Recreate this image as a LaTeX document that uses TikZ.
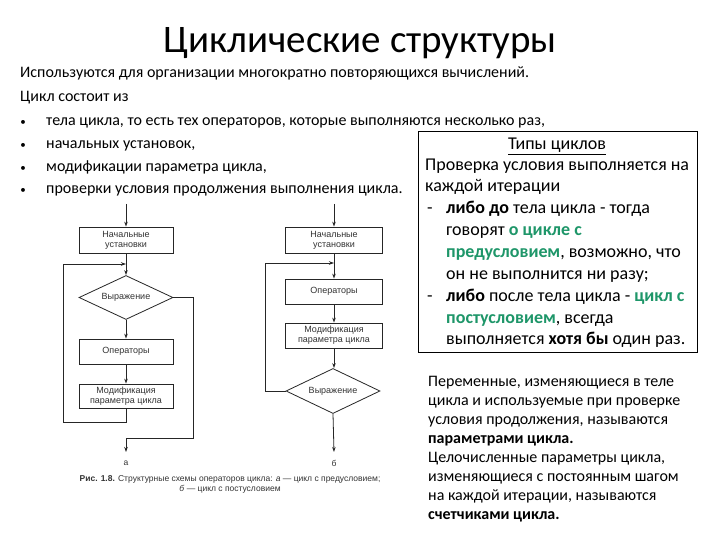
\documentclass[tikz,border=0pt]{standalone}
\usepackage{fontspec}
\setmainfont{Carlito}
\newfontfamily\chartfont{Liberation Sans}
\usetikzlibrary{shapes.geometric,arrows.meta}
\definecolor{grn}{RGB}{30,150,105}
\begin{document}
\begin{tikzpicture}[x=1pt,y=-1pt,
 lt/.style={anchor=base west,inner sep=0,font=\fontsize{16}{19}\selectfont},
 blt/.style={anchor=base,inner sep=0,font=\fontsize{11}{13}\selectfont},
 bt/.style={anchor=base west,inner sep=0,font=\fontsize{18}{21}\selectfont},
 ct/.style={anchor=base west,inner sep=0,font=\fontsize{16}{19}\selectfont},
 fbox/.style={draw=black!85,line width=0.8pt,minimum width=94pt,minimum height=25pt,inner sep=1pt,align=center,font=\chartfont\fontsize{9}{10}\selectfont,text=black!80},
 fdia/.style={diamond,draw=black!85,line width=0.8pt,minimum width=94pt,minimum height=44pt,inner sep=0,aspect=2.2,font=\chartfont\fontsize{9}{10}\selectfont,text=black!80},
 fl/.style={draw=black!85,line width=0.8pt},
 fa/.style={fl,-{Stealth[length=5pt,width=3.5pt]}},
 captxt/.style={inner sep=0,font=\chartfont\fontsize{8.5}{10}\selectfont,text=black!80},
]
\fill[white] (0,0) rectangle (720,540);
\useasboundingbox (0,0) rectangle (720,540);

% title
\node[anchor=base,inner sep=0,font=\fontsize{39}{44}\selectfont] (title) at (360,53) {Циклические структуры};

% left text
\node[lt] (t1) at (20,78) {Используются для организации многократно повторяющихся вычислений.};
\node[lt] (t2) at (20,102) {Цикл состоит из};
\node[blt] (b1) at (23,126) {•};
\node[lt] (t3) at (46,126) {тела цикла, то есть тех операторов, которые выполняются несколько раз,};
\node[blt] (b2) at (23,149) {•};
\node[lt] (t4) at (46,149) {начальных установок,};
\node[blt] (b3) at (23,172) {•};
\node[lt] (t5) at (46,172) {модификации параметра цикла,};
\node[blt] (b4) at (23,194) {•};
\node[lt] (t6) at (46,194) {проверки условия продолжения выполнения цикла.};

% right box
\draw[line width=0.8pt] (418,131) rectangle (697,352);
\node[anchor=base,inner sep=0,font=\fontsize{18}{21}\selectfont] (r0) at (557,150) {\underline{Типы циклов}};
\node[bt] (r1) at (425,171) {Проверка условия выполняется на};
\node[bt] (r2) at (425,192) {каждой итерации};
\node[bt] (d1m) at (427,214) {-};
\node[bt] (r3) at (446,214) {\textbf{либо до} тела цикла - тогда};
\node[bt] (r4) at (446,236) {говорят {\bfseries\color{grn}о цикле с}};
\node[bt] (r5) at (446,258) {{\bfseries\color{grn}предусловием}, возможно, что};
\node[bt] (r6) at (446,279) {он не выполнится ни разу;};
\node[bt] (d2m) at (427,301) {-};
\node[bt] (r7) at (446,301) {\textbf{либо} после тела цикла - {\bfseries\color{grn}цикл с}};
\node[bt] (r8) at (446,323) {{\bfseries\color{grn}постусловием}, всегда};
\node[bt] (r9) at (446,344) {выполняется \textbf{хотя бы} один раз.};

% bottom right
\node[ct] (p1) at (428,386) {Переменные, изменяющиеся в теле};
\node[ct] (p2) at (428,405) {цикла и используемые при проверке};
\node[ct] (p3) at (428,424) {условия продолжения, называются};
\node[ct] (p4) at (428,443) {\textbf{параметрами цикла.}};
\node[ct] (p5) at (428,462) {Целочисленные параметры цикла,};
\node[ct] (p6) at (428,481) {изменяющиеся с постоянным шагом};
\node[ct] (p7) at (428,500) {на каждой итерации, называются};
\node[ct] (p8) at (428,519) {\textbf{счетчиками цикла.}};

% ---- flowchart a
\coordinate (aTop) at (126,204);
\node[fbox,minimum height=26pt] (aNU) at (126,240) {Начальные\\установки};
\node[fdia] (aD) at (126,297.5) {Выражение};
\node[fbox] (aOp) at (126,351.5) {Операторы};
\node[fbox,minimum height=24pt] (aMod) at (126,396) {Модификация\\параметра цикла};
\coordinate (aJ) at (126,264);
\coordinate (aL1) at (63,422);
\coordinate (aL2) at (63,264);
\coordinate (aR1) at (193,297.5);
\coordinate (aR2) at (193,438);
\coordinate (aR3) at (126,438);
\coordinate (aEnd) at (126,452);
\draw[fa] (aTop) -- (aNU.north);
\draw[fa] (aNU.south) -- (aD.north);
\draw[fa] (aD.south) -- (aOp.north);
\draw[fa] (aOp.south) -- (aMod.north);
\draw[fl] (aMod.south) |- (aL1) -- (aL2);
\draw[fa] (aL2) -- (aJ);
\draw[fl] (aD.east) -- (aR1) -- (aR2) -- (aR3);
\draw[fa] (aR3) -- (aEnd);
\node[captxt] (aLab) at (126,463) {а};

% ---- flowchart b
\coordinate (bTop) at (334,204);
\node[fbox,minimum width=97pt,minimum height=26pt] (bNU) at (334,240) {Начальные\\установки};
\node[fbox,minimum width=97pt] (bOp) at (334,291.5) {Операторы};
\node[fbox,minimum width=97pt] (bMod) at (334,335.5) {Модификация\\параметра цикла};
\node[fdia,minimum height=45pt] (bD) at (333,391) {Выражение};
\coordinate (bJ) at (334,263);
\coordinate (bL1) at (265,391);
\coordinate (bL2) at (265,263);
\coordinate (bEnd) at (334,452);
\draw[fa] (bTop) -- (bNU.north);
\draw[fa] (bNU.south) -- (bOp.north);
\draw[fa] (bOp.south) -- (bMod.north);
\draw[fa] (bMod.south) -- (bMod.south |- bD.north);
\draw[fl] (bD.west) -- (bL1) -- (bL2);
\draw[fa] (bL2) -- (bJ);
\draw[fa] (bD.south) -- (bEnd);
\node[captxt] (bLab) at (334,463) {б};

% caption
\node[captxt,anchor=base] (cap1) at (230,481) {\textbf{Рис. 1.8.} Структурные схемы операторов цикла: \textit{а} — цикл с предусловием;};
\node[captxt,anchor=base] (cap2) at (230,491) {\textit{б} — цикл с постусловием};
\end{tikzpicture}
\end{document}
